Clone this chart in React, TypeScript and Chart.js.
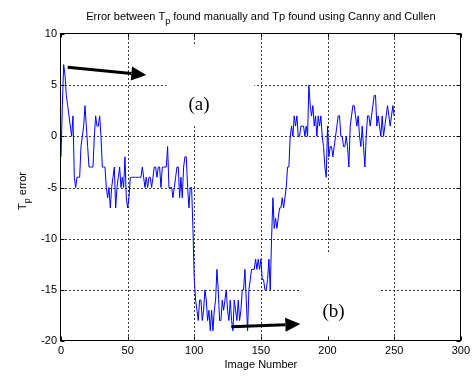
import React, { useEffect, useRef } from "react";
import { Chart, registerables } from "chart.js";

Chart.register(...registerables);

// T_p error per image (index = image number)
const tpError: number[] = [
  -2, 3, 7, 6, 4, 3, 2, 1, 0, 2,
  -4, -5, -4, -4, -4, -1, 0, 1, 3, 1,
  -1, -3, -3, -3, -3, 0, 2, 1, 1, 2,
  0, -3, -3, -3, -5, -6, -5, -7, -5, -4,
  -3, -7, -5, -4, -3, -5, -4, -5, -2, -6,
  -7, -6, -4, -4, -4, -4, -4, -4, -4, -4,
  -4, -3, -4, -5, -4, -5, -4, -4, -5, -4,
  -3, -3, -4, -3, -3, -5, -3, -3, -3, -3,
  -1, -5, -5, -5, -6, -5, -4, -3, -3, -6,
  -4, -6, -3, -2, -2, -5, -7, -5, -5, -9,
  -14, -16, -17, -18, -16, -16, -18, -17, -15, -16,
  -18, -17, -19, -17, -19, -17, -16, -13, -15, -18,
  -18, -16, -17, -16, -15, -17, -18, -16, -18, -19,
  -16, -17, -18, -16, -18, -17, -15, -15, -13, -16,
  -19, -15, -14, -13, -13, -13, -12, -13, -12, -13,
  -12, -14, -14, -15, -15, -14, -12, -15, -10, -6,
  -9, -8, -9, -8, -7, -7, -6, -7, -6, -5,
  -3, -3, 0, 1, 0, 2, 1, 2, 0, 0,
  1, 1, 1, 0, 1, 0, 5, 3, 2, 3,
  1, 2, 0, 2, 1, 2, 0, -1, -3, -4,
  1, -2, -1, -1, -2, -1, 0, 1, 2, 2,
  0, 0, -1, -1, 0, -1, -3, 1, 2, 3,
  3, 2, 1, 2, 0, -1, 1, -1, -3, 0,
  2, 2, 1, 2, 3, 4, 4, 1, 2, 1,
  0, 2, 0, 1, 2, 3, 2, 1, 2, 3,
  2,
];
const imageNumbers: number[] = tpError.map((_, i) => i);

const xTicks = [0, 50, 100, 150, 200, 250, 300];
const yTicks = [-20, -15, -10, -5, 0, 5, 10];

const titleParts = ["Error between T", "p", " found manually and Tp found using Canny and Cullen"];
const xLabel = "Image Number";
const yLabelParts = ["T", "p", " error"];

// annotations in data coordinates
const labelA = { text: "(a)", x: 103.5, y: 3.1 };
const labelB = { text: "(b)", x: 204.5, y: -17.15 };
const arrowA = { x0: 5, y0: 6.75, x1: 64, y1: 6.0 };
const arrowB = { x0: 127.8, y0: -18.6, x1: 179.6, y1: -18.35 };
const maskA = { x0: 79, x1: 145, y0: 9.0, y1: 0.9 };
const maskB = { x0: 180, x1: 240, y0: -11.4, y1: -20 };

const SANS = "'Liberation Sans', Arial, Helvetica, sans-serif";
const SERIF = "'Liberation Serif', 'Times New Roman', serif";

function drawArrow(ctx: CanvasRenderingContext2D, x0: number, y0: number, x1: number, y1: number) {
  const ang = Math.atan2(y1 - y0, x1 - x0);
  const len = 15;
  const hw = 7;
  const bx = x1 - Math.cos(ang) * len;
  const by = y1 - Math.sin(ang) * len;
  ctx.save();
  ctx.strokeStyle = "#000";
  ctx.fillStyle = "#000";
  ctx.lineWidth = 3;
  ctx.beginPath();
  ctx.moveTo(x0, y0);
  ctx.lineTo(bx, by);
  ctx.stroke();
  ctx.beginPath();
  ctx.moveTo(x1, y1);
  ctx.lineTo(bx + Math.sin(ang) * hw, by - Math.cos(ang) * hw);
  ctx.lineTo(bx - Math.sin(ang) * hw, by + Math.cos(ang) * hw);
  ctx.closePath();
  ctx.fill();
  ctx.restore();
}

const matlabPlugin = {
  id: "matlabStyle",
  beforeDatasetsDraw(chart: any) {
    const { ctx, chartArea: a, scales } = chart;
    const xs = scales.x;
    const ys = scales.y;
    ctx.save();
    ctx.strokeStyle = "#3a3a3a";
    ctx.lineWidth = 1;
    ctx.setLineDash([2, 2]);
    for (const v of xTicks.slice(1, -1)) {
      const px = Math.round(xs.getPixelForValue(v)) + 0.5;
      ctx.beginPath();
      ctx.moveTo(px, a.top);
      ctx.lineTo(px, a.bottom);
      ctx.stroke();
    }
    for (const v of yTicks.slice(1, -1)) {
      const py = Math.round(ys.getPixelForValue(v)) + 0.5;
      ctx.beginPath();
      ctx.moveTo(a.left, py);
      ctx.lineTo(a.right, py);
      ctx.stroke();
    }
    ctx.setLineDash([]);
    ctx.fillStyle = "#fff";
    for (const m of [maskA, maskB]) {
      const x0 = xs.getPixelForValue(m.x0);
      const x1 = xs.getPixelForValue(m.x1);
      const y0 = ys.getPixelForValue(m.y0);
      const y1 = ys.getPixelForValue(m.y1);
      ctx.fillRect(x0, y0, x1 - x0, y1 - y0 - 1);
    }
    ctx.restore();
  },
  afterDatasetsDraw(chart: any) {
    const { ctx, chartArea: a, scales } = chart;
    const xs = scales.x;
    const ys = scales.y;
    ctx.save();
    // frame
    ctx.strokeStyle = "#000";
    ctx.lineWidth = 1;
    const L = Math.round(a.left) - 0.5;
    const R = Math.round(a.right) - 0.5;
    const T = Math.round(a.top) - 0.5;
    const B = Math.round(a.bottom) - 0.5;
    ctx.strokeRect(L, T, R - L, B - T);
    // inward tick marks
    ctx.beginPath();
    for (const v of xTicks) {
      const px = Math.round(xs.getPixelForValue(v)) + 0.5;
      ctx.moveTo(px, B);
      ctx.lineTo(px, B - 4);
      ctx.moveTo(px, T);
      ctx.lineTo(px, T + 4);
    }
    for (const v of yTicks) {
      const py = Math.round(ys.getPixelForValue(v)) + 0.5;
      ctx.moveTo(L, py);
      ctx.lineTo(L + 4, py);
      ctx.moveTo(R, py);
      ctx.lineTo(R - 4, py);
    }
    ctx.stroke();

    // arrows
    drawArrow(ctx, xs.getPixelForValue(arrowA.x0), ys.getPixelForValue(arrowA.y0), xs.getPixelForValue(arrowA.x1), ys.getPixelForValue(arrowA.y1));
    drawArrow(ctx, xs.getPixelForValue(arrowB.x0), ys.getPixelForValue(arrowB.y0), xs.getPixelForValue(arrowB.x1), ys.getPixelForValue(arrowB.y1));

    // (a), (b)
    ctx.fillStyle = "#000";
    ctx.font = `19px ${SERIF}`;
    ctx.textAlign = "center";
    ctx.textBaseline = "middle";
    for (const l of [labelA, labelB]) {
      ctx.fillText(l.text, xs.getPixelForValue(l.x), ys.getPixelForValue(l.y));
    }

    // title with subscript
    ctx.textAlign = "left";
    ctx.textBaseline = "alphabetic";
    const mainFont = `11px ${SANS}`;
    const subFont = `9px ${SANS}`;
    ctx.font = mainFont;
    const w0 = ctx.measureText(titleParts[0]).width;
    const w2 = ctx.measureText(titleParts[2]).width;
    ctx.font = subFont;
    const w1 = ctx.measureText(titleParts[1]).width;
    const total = w0 + w1 + w2;
    let tx = (a.left + a.right) / 2 - total / 2;
    const ty = 19.5;
    ctx.font = mainFont;
    ctx.fillText(titleParts[0], tx, ty);
    tx += w0;
    ctx.font = subFont;
    ctx.fillText(titleParts[1], tx, ty + 4);
    tx += w1;
    ctx.font = mainFont;
    ctx.fillText(titleParts[2], tx, ty);

    // x label
    ctx.textAlign = "center";
    ctx.fillText(xLabel, (a.left + a.right) / 2, 368);

    // y label rotated
    ctx.save();
    ctx.translate(26, 191);
    ctx.rotate(-Math.PI / 2);
    ctx.textAlign = "left";
    ctx.font = mainFont;
    const yw0 = ctx.measureText(yLabelParts[0]).width;
    const yw2 = ctx.measureText(yLabelParts[2]).width;
    ctx.font = subFont;
    const yw1 = ctx.measureText(yLabelParts[1]).width;
    let yx = -(yw0 + yw1 + yw2) / 2;
    ctx.font = mainFont;
    ctx.fillText(yLabelParts[0], yx, 0);
    yx += yw0;
    ctx.font = subFont;
    ctx.fillText(yLabelParts[1], yx, 4);
    yx += yw1;
    ctx.font = mainFont;
    ctx.fillText(yLabelParts[2], yx, 0);
    ctx.restore();

    ctx.restore();
  },
};

export default function App() {
  const ref = useRef<HTMLCanvasElement>(null);
  useEffect(() => {
    if (!ref.current) return;
    const chart = new Chart(ref.current, {
      type: "line",
      data: {
        datasets: [
          {
            data: imageNumbers.map((x, i) => ({ x, y: tpError[i] })),
            borderColor: "#0000ff",
            borderWidth: 1,
            pointRadius: 0,
            tension: 0,
            fill: false,
          },
        ],
      },
      options: {
        animation: false,
        responsive: false,
        devicePixelRatio: 1,
        layout: { padding: { top: 34, right: 10, bottom: 0, left: 0 } },
        plugins: { legend: { display: false }, tooltip: { enabled: false }, title: { display: false } },
        events: [],
        scales: {
          x: {
            type: "linear",
            min: 0,
            max: 300,
            grid: { display: false, drawTicks: false },
            border: { display: false },
            ticks: {
              stepSize: 50,
              autoSkip: false,
              maxRotation: 0,
              padding: 3,
              color: "#000",
              font: { family: SANS, size: 11 },
              callback: (v: any) => String(v),
            },
            afterFit: (s: any) => {
              s.height = 35;
            },
          },
          y: {
            type: "linear",
            min: -20,
            max: 10,
            grid: { display: false, drawTicks: false },
            border: { display: false },
            ticks: {
              stepSize: 5,
              padding: 4,
              color: "#000",
              font: { family: SANS, size: 11 },
              callback: (v: any) => String(v),
            },
            afterFit: (s: any) => {
              s.width = 61;
            },
          },
        },
      },
      plugins: [matlabPlugin],
    } as any);
    return () => chart.destroy();
  }, []);
  return (
    <div style={{ position: "absolute", left: 0, top: 0, width: 473, height: 376, background: "#fff" }}>
      <canvas ref={ref} width={473} height={376} style={{ display: "block", width: 473, height: 376 }} />
    </div>
  );
}
